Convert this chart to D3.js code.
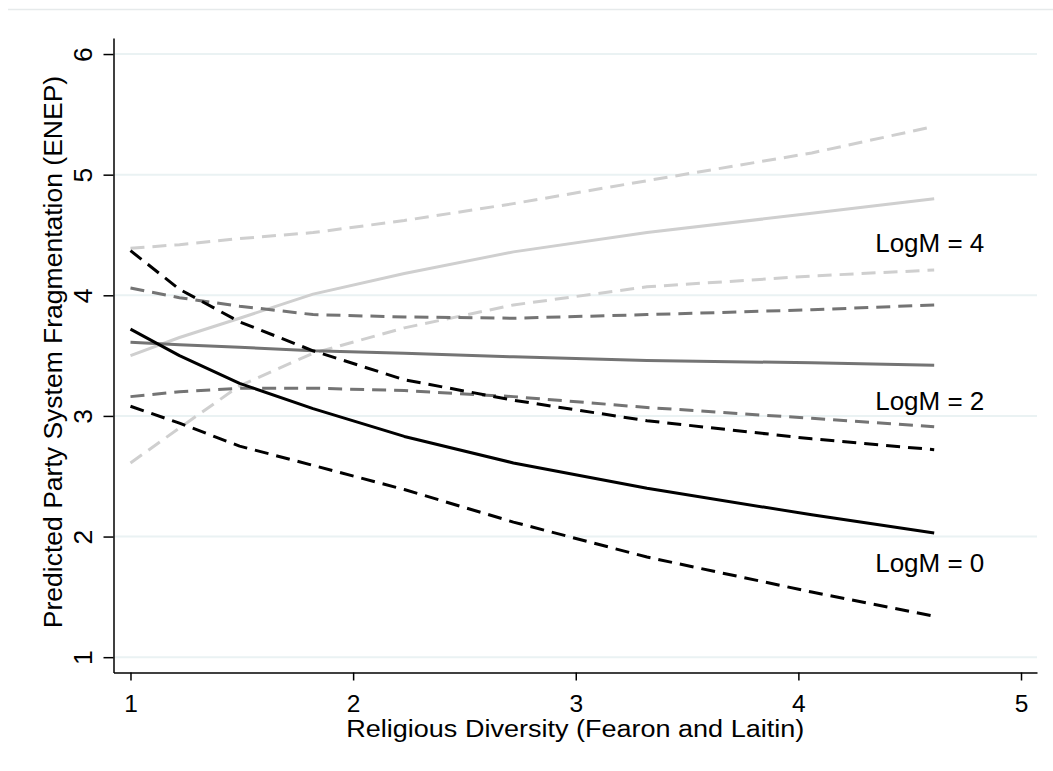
<!DOCTYPE html>
<html>
<head>
<meta charset="utf-8">
<script src="https://cdn.jsdelivr.net/npm/d3@7"></script>
<style>
  body { margin: 0; background: #fff; }
  text { font-family: "Liberation Sans", Arial, Helvetica, sans-serif; fill: #000; }
</style>
</head>
<body>
<div id="chart"></div>
<script>
// religious diversity values the predictions were computed at
var xVals = [1, 1.22, 1.49, 1.82, 2.23, 2.72, 3.32, 4.06, 4.61];

// predicted ENEP, with upper / lower bounds, per LogM value
var logM0   = [3.72, 3.50, 3.27, 3.06, 2.83, 2.61, 2.40, 2.18, 2.03];
var logM0Hi = [4.37, 4.05, 3.78, 3.54, 3.30, 3.13, 2.96, 2.81, 2.72];
var logM0Lo = [3.08, 2.94, 2.75, 2.59, 2.39, 2.12, 1.83, 1.54, 1.34];

var logM2   = [3.61, 3.59, 3.57, 3.54, 3.52, 3.49, 3.46, 3.44, 3.42];
var logM2Hi = [4.06, 3.98, 3.91, 3.84, 3.82, 3.81, 3.84, 3.88, 3.92];
var logM2Lo = [3.16, 3.20, 3.23, 3.23, 3.21, 3.16, 3.07, 2.98, 2.91];

var logM4   = [3.50, 3.65, 3.81, 4.01, 4.18, 4.36, 4.52, 4.68, 4.80];
var logM4Hi = [4.39, 4.42, 4.47, 4.52, 4.62, 4.76, 4.95, 5.18, 5.40];
var logM4Lo = [2.61, 2.90, 3.25, 3.52, 3.73, 3.92, 4.07, 4.16, 4.21];

var xTicks = [1, 2, 3, 4, 5];
var yTicks = [1, 2, 3, 4, 5, 6];

var labels = ['LogM = 0', 'LogM = 2', 'LogM = 4'];
var labelX = 4.345;
var labelY = [1.71, 3.05, 4.36];

var width = 1053, height = 771;

var svg = d3.select('#chart').append('svg')
    .attr('width', width)
    .attr('height', height);

svg.append('rect')
    .attr('width', width)
    .attr('height', height)
    .attr('fill', '#fff');

// faint outer region edge along the top
svg.append('line')
    .attr('x1', 8).attr('x2', width)
    .attr('y1', 9.5).attr('y2', 9.5)
    .attr('stroke', '#e6eaeb')
    .attr('stroke-width', 1.5);

var x = d3.scaleLinear().domain([0.9237, 5.0718]).range([113.5, 1037]);
var y = d3.scaleLinear().domain([0.873, 6.133]).range([672.5, 38]);

// gridlines
svg.append('g').selectAll('line')
    .data(yTicks)
    .enter().append('line')
    .attr('x1', x.range()[0] + 1)
    .attr('x2', x.range()[1])
    .attr('y1', function(d) { return y(d); })
    .attr('y2', function(d) { return y(d); })
    .attr('stroke', '#eaf2f3')
    .attr('stroke-width', 2);

var line = d3.line()
    .x(function(d, i) { return x(xVals[i]); })
    .y(function(d) { return y(d); });

var series = [
    { values: logM4Lo, color: '#cfcfcf', dash: true },
    { values: logM4Hi, color: '#cfcfcf', dash: true },
    { values: logM4,   color: '#cfcfcf', dash: false },
    { values: logM2Lo, color: '#747474', dash: true },
    { values: logM2Hi, color: '#747474', dash: true },
    { values: logM2,   color: '#747474', dash: false },
    { values: logM0Lo, color: '#000000', dash: true },
    { values: logM0Hi, color: '#000000', dash: true },
    { values: logM0,   color: '#000000', dash: false }
];

svg.append('g').selectAll('path')
    .data(series)
    .enter().append('path')
    .attr('d', function(s) { return line(s.values); })
    .attr('fill', 'none')
    .attr('stroke', function(s) { return s.color; })
    .attr('stroke-width', 3)
    .attr('stroke-linejoin', 'round')
    .attr('stroke-dasharray', function(s) { return s.dash ? '14 8' : null; });

// axes
var xAxis = svg.append('g')
    .attr('transform', 'translate(0,' + y.range()[0] + ')')
    .call(d3.axisBottom(x).tickValues(xTicks).tickFormat(d3.format('d'))
        .tickSize(8).tickSizeOuter(0));

xAxis.selectAll('text')
    .attr('y', 39)
    .attr('dy', 0)
    .style('font-size', '24.5px');

var yAxis = svg.append('g')
    .attr('transform', 'translate(' + x.range()[0] + ',0)')
    .call(d3.axisLeft(y).tickValues(yTicks).tickFormat(d3.format('d'))
        .tickSize(10).tickSizeOuter(0));

yAxis.selectAll('text')
    .attr('transform', 'rotate(-90)')
    .attr('x', 0)
    .attr('y', -21.5)
    .attr('dy', 0)
    .attr('text-anchor', 'middle')
    .style('font-size', '26.5px');

svg.selectAll('.domain, .tick line')
    .attr('stroke', '#000')
    .attr('stroke-width', 1.5);

// axis titles
svg.append('text')
    .attr('x', (x.range()[0] + x.range()[1]) / 2)
    .attr('y', 737)
    .attr('text-anchor', 'middle')
    .attr('textLength', 458)
    .attr('lengthAdjust', 'spacingAndGlyphs')
    .style('font-size', '23.5px')
    .text('Religious Diversity (Fearon and Laitin)');

svg.append('text')
    .attr('transform', 'translate(62,352) rotate(-90)')
    .attr('text-anchor', 'middle')
    .style('font-size', '26.5px')
    .text('Predicted Party System Fragmentation (ENEP)');

// LogM labels
svg.append('g').selectAll('text')
    .data(labels)
    .enter().append('text')
    .attr('x', x(labelX))
    .attr('y', function(d, i) { return y(labelY[i]); })
    .style('font-size', '26px')
    .text(function(d) { return d; });
</script>
</body>
</html>
